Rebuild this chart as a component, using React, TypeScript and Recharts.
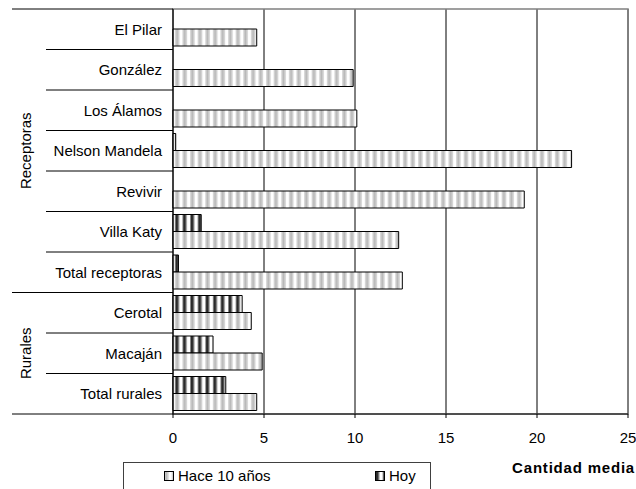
import { BarChart, Bar, XAxis, YAxis, CartesianGrid, ReferenceArea, Legend, Label } from 'recharts';

const categories = [
  'El Pilar',
  'González',
  'Los Álamos',
  'Nelson Mandela',
  'Revivir',
  'Villa Katy',
  'Total receptoras',
  'Cerotal',
  'Macaján',
  'Total rurales',
];
const hace10 = [4.6, 9.9, 10.1, 21.9, 19.3, 12.4, 12.6, 4.3, 4.9, 4.6];
const hoy = [null, null, null, 0.15, null, 1.55, 0.3, 3.8, 2.2, 2.9];
const xTicks = [0, 5, 10, 15, 20, 25];
const groups = [
  { name: 'Receptoras', from: 0, to: 6 },
  { name: 'Rurales', from: 7, to: 9 },
];

const data = categories.map((name, i) => ({ name, hace: hace10[i], hoy: hoy[i] }));

const W = 636;
const H = 489;
const MARGIN = { top: 9, right: 8, left: 0, bottom: 45 };
const X_AXIS_H = 30;
const Y_AXIS_W = 173;
const TICK_MARGIN = 11;
const PLOT_H = H - MARGIN.top - MARGIN.bottom - X_AXIS_H;
const BAND = PLOT_H / categories.length;
const FONT = '"Liberation Sans", Arial, sans-serif';
const FS = 15;

function CategoryTick(props: any) {
  const { x, y, index, payload } = props;
  const axisX = x + TICK_MARGIN;
  const top = y - BAND / 2;
  const groupStart = groups.some((g) => g.from === index);
  const group = groups.find((g) => Math.floor((g.from + g.to) / 2) === index);
  const groupMidY = group ? y + ((group.to - group.from) % 2 === 1 ? BAND / 2 : 0) : 0;
  const isLast = index === categories.length - 1;
  return (
    <g>
      <line x1={groupStart ? 12 : 46} x2={axisX} y1={top} y2={top} stroke="#000" />
      {isLast && <line x1={12} x2={axisX} y1={y + BAND / 2} y2={y + BAND / 2} stroke="#000" />}
      <text x={x} y={y} dy="0.35em" textAnchor="end" fontSize={FS} fontFamily={FONT} fill="#000">
        {payload.value}
      </text>
      {group && (
        <text
          x={26}
          y={groupMidY}
          textAnchor="middle"
          dy="0.35em"
          fontSize={FS}
          fontFamily={FONT}
          fill="#000"
          transform={`rotate(-90 26 ${groupMidY})`}
        >
          {group.name}
        </text>
      )}
    </g>
  );
}

function LegendBox() {
  const item = (pattern: string, label: string, left: number) => (
    <div style={{ position: 'absolute', left, top: 4, display: 'flex', alignItems: 'center', lineHeight: '18px' }}>
      <svg width={10} height={10} style={{ marginRight: 4 }}>
        <rect x={0.5} y={0.5} width={9} height={9} fill={`url(#${pattern})`} stroke="#000" />
      </svg>
      <span style={{ fontSize: FS, fontFamily: FONT, color: '#000' }}>{label}</span>
    </div>
  );
  return (
    <div
      style={{
        position: 'relative',
        width: 308,
        height: 30,
        border: '1px solid #404040',
        boxSizing: 'border-box',
        background: '#fff',
      }}
    >
      {item('hacePattern', 'Hace 10 años', 40)}
      {item('hoyPattern', 'Hoy', 251)}
    </div>
  );
}

export default function App() {
  return (
    <div style={{ position: 'absolute', left: 0, top: 0, width: W, height: H, background: '#fff' }}>
      <BarChart
        width={W}
        height={H}
        data={data}
        layout="vertical"
        margin={MARGIN}
        barGap={0}
        barSize={17}
      >
        <defs>
          <pattern id="hacePattern" patternUnits="userSpaceOnUse" width={7.6} height={10}>
            <rect width={7.6} height={10} fill="#fff" />
            <rect x={0} width={1.2} height={10} fill="#d8d8d8" />
            <rect x={1.2} width={2.4} height={10} fill="#b8b8b8" />
            <rect x={3.6} width={1.2} height={10} fill="#d8d8d8" />
          </pattern>
          <pattern id="hoyPattern" patternUnits="userSpaceOnUse" width={7.6} height={10}>
            <rect width={7.6} height={10} fill="#fff" />
            <rect x={0} width={0.8} height={10} fill="#8a8a8a" />
            <rect x={0.8} width={2.8} height={10} fill="#2a2a2a" />
            <rect x={3.6} width={0.8} height={10} fill="#8a8a8a" />
          </pattern>
        </defs>
        <CartesianGrid horizontal={false} stroke="#000" />
        <ReferenceArea x1={0} x2={25} fill="none" stroke="#808080" strokeWidth={1.5} />
        <XAxis
          type="number"
          domain={[0, 25]}
          ticks={xTicks}
          height={X_AXIS_H}
          axisLine={{ stroke: '#000' }}
          tickLine={{ stroke: '#000' }}
          tickSize={4}
          tickMargin={14}
          tick={{ fontSize: FS, fontFamily: FONT, fill: '#000' }}
        >
          <Label
            content={(p: any) => (
              <text
                x={p.viewBox.x + p.viewBox.width + 7}
                y={p.viewBox.y + 59}
                textAnchor="end"
                fontSize={FS}
                fontWeight="bold"
                fontFamily={FONT}
                fill="#000"
                letterSpacing={0.8}
              >
                Cantidad media
              </text>
            )}
          />
        </XAxis>
        <YAxis
          type="category"
          dataKey="name"
          width={Y_AXIS_W}
          axisLine={{ stroke: '#000' }}
          tickLine={false}
          tickSize={0}
          tickMargin={TICK_MARGIN}
          interval={0}
          tick={<CategoryTick />}
        />
        <Bar dataKey="hoy" name="Hoy" fill="url(#hoyPattern)" stroke="#000" strokeWidth={1} isAnimationActive={false} />
        <Bar dataKey="hace" name="Hace 10 años" fill="url(#hacePattern)" stroke="#000" strokeWidth={1} isAnimationActive={false} />
        <Legend
          layout="horizontal"
          verticalAlign="middle"
          align="center"
          content={() => <LegendBox />}
          wrapperStyle={{ position: 'absolute', left: 123, top: 462, width: 308, height: 30 }}
        />
      </BarChart>
    </div>
  );
}
